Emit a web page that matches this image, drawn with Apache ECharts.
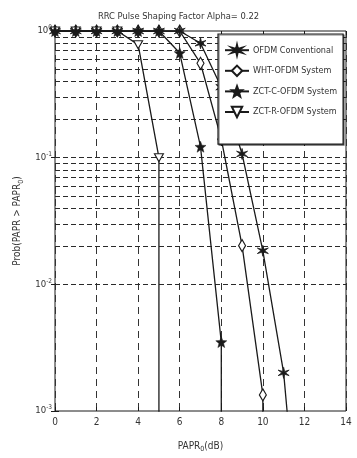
<!DOCTYPE html>
<html><head><meta charset="utf-8">
<script src="https://cdn.jsdelivr.net/npm/echarts@6/dist/echarts.min.js"></script>
<style>html,body{margin:0;padding:0;background:#fff}#c{width:357px;height:458px}</style>
</head><body><div id="c"></div>
<script>
const titleText = 'RRC Pulse Shaping Factor Alpha= 0.22';
const seriesNames = ['OFDM Conventional', 'WHT-OFDM System', 'ZCT-C-OFDM System', 'ZCT-R-OFDM System'];
const paprX = [0, 1, 2, 3, 4, 5, 6, 7, 8, 9, 10, 11, 12, 13];
const ofdmConv = [1, 1, 1, 1, 1, 1, 1, 0.80, 0.36, 0.107, 0.0184, 0.0020, 0.00003, 0];
const whtOfdm = [1, 1, 1, 1, 1, 1, 1, 0.556, 0.14, 0.0202, 0.00134, 0];
const zctCOfdm = [1, 1, 1, 1, 1, 1, 0.67, 0.122, 0.0035, 0];
const zctROfdm = [1, 1, 1, 1, 0.78, 0.1, 0];
const xTicks = [0, 2, 4, 6, 8, 10, 12, 14];
const yGrid = [0.002, 0.003, 0.004, 0.005, 0.006, 0.007, 0.008, 0.009, 0.01,
  0.02, 0.03, 0.04, 0.05, 0.06, 0.07, 0.08, 0.09, 0.1,
  0.2, 0.3, 0.4, 0.5, 0.6, 0.7, 0.8, 0.9];

const FONT = "'Liberation Sans Narrow', 'DejaVu Sans Condensed', 'Liberation Sans', Arial, sans-serif";
const INK = '#1a1a1a';

function buildData(ys) {
  const out = [];
  for (let i = 0; i < ys.length; i++) {
    if (ys[i] > 0) out.push({ value: [paprX[i], ys[i]] });
    else { out.push({ value: [paprX[i - 1], 1e-9], symbol: 'none' }); break; }
  }
  return out;
}

function starPath(n, rIn) {
  let d = '';
  for (let k = 0; k < 2 * n; k++) {
    const r = k % 2 === 0 ? 1 : rIn;
    const a = Math.PI * k / n - Math.PI / 2;
    d += (k === 0 ? 'M' : 'L') + (r * Math.cos(a)).toFixed(3) + ',' + (r * Math.sin(a)).toFixed(3);
  }
  return 'path://' + d + 'Z';
}
const asterisk = starPath(6, 0.3);
const star5 = starPath(5, 0.42);

const lineStyle = { color: INK, width: 1.3 };
const chart = echarts.init(document.getElementById('c'), null, { renderer: 'canvas' });
chart.setOption({
  animation: false,
  backgroundColor: '#fff',
  title: {
    text: titleText, left: 'center', top: 7,
    textStyle: { fontFamily: FONT, fontSize: 9.3, fontWeight: 'normal', color: '#333' }
  },
  grid: { left: 55, right: 11, top: 31, bottom: 44, show: true, borderColor: INK, borderWidth: 1 },
  legend: {
    orient: 'vertical', left: 218, top: 34, z: 20,
    padding: [10, 6, 26, 6],
    itemGap: 8.2, itemWidth: 24, itemHeight: 13,
    backgroundColor: '#fff', borderColor: INK, borderWidth: 1.2,
    shadowColor: 'rgba(0,0,0,0.5)', shadowOffsetX: 1, shadowOffsetY: 1, shadowBlur: 0,
    textStyle: { fontFamily: FONT, fontSize: 9, color: '#333', padding: [0, 0, 0, -1] },
    data: seriesNames
  },
  xAxis: [{
    type: 'value', min: 0, max: 14, interval: 2,
    name: 'PAPR{sub|0}(dB)', nameLocation: 'middle', nameGap: 29,
    nameTextStyle: { fontFamily: FONT, fontSize: 10, color: '#333',
      rich: { sub: { fontFamily: FONT, fontSize: 7, color: '#333', verticalAlign: 'bottom', padding: [6, 0, 0, 0] } } },
    axisLine: { show: false },
    axisTick: { show: true, inside: true, length: 4, lineStyle: { color: INK } },
    axisLabel: { fontFamily: FONT, fontSize: 10, color: '#333', margin: 6,
      formatter: v => xTicks.includes(v) ? String(v) : '' },
    splitLine: { show: true, lineStyle: { color: '#333', type: [7, 5], width: 1 } }
  }, {
    type: 'value', min: 0, max: 14, interval: 2, position: 'top',
    axisLine: { show: false }, axisLabel: { show: false },
    axisTick: { show: true, inside: true, length: 4, lineStyle: { color: INK } },
    splitLine: { show: false }
  }],
  yAxis: [{
    type: 'log', logBase: 10, min: 1e-3, max: 1,
    name: 'Prob(PAPR > PAPR{sub|0})', nameLocation: 'middle', nameGap: 19, nameRotate: 90,
    nameTextStyle: { fontFamily: FONT, fontSize: 10, color: '#333',
      rich: { sub: { fontFamily: FONT, fontSize: 7, color: '#333', verticalAlign: 'bottom', padding: [6, 0, 0, 0] } } },
    axisLine: { show: false },
    axisTick: { show: true, inside: true, length: 4, lineStyle: { color: INK } },
    axisLabel: {
      fontFamily: FONT, color: '#333', margin: 3,
      formatter: v => {
        const e = Math.round(Math.log10(v));
        return '{b|10}{s|' + e + '}';
      },
      rich: {
        b: { fontFamily: FONT, fontSize: 9.5, color: '#333' },
        s: { fontFamily: FONT, fontSize: 6.5, color: '#333', verticalAlign: 'top', padding: [0, 0, 7, 0] }
      }
    },
    splitLine: { show: false }
  }, {
    type: 'log', logBase: 10, min: 1e-3, max: 1, position: 'right',
    axisLine: { show: false }, axisLabel: { show: false },
    axisTick: { show: true, inside: true, length: 4, lineStyle: { color: INK } },
    splitLine: { show: false }
  }],
  series: [{
    name: seriesNames[0], type: 'line', data: buildData(ofdmConv),
    symbol: asterisk, symbolSize: 11,
    itemStyle: { color: INK, borderColor: INK, borderWidth: 0.8 },
    lineStyle: lineStyle, z: 4,
    markLine: {
      silent: true, symbol: 'none', animation: false, z: 1,
      label: { show: false },
      lineStyle: { color: '#2a2a2a', type: [5, 3], width: 1 },
      data: yGrid.map(v => ({ yAxis: v }))
    }
  }, {
    name: seriesNames[1], type: 'line', data: buildData(whtOfdm),
    symbol: 'diamond', symbolSize: [7, 12],
    itemStyle: { color: '#fff', borderColor: INK, borderWidth: 1.2 },
    lineStyle: lineStyle, z: 3
  }, {
    name: seriesNames[2], type: 'line', data: buildData(zctCOfdm),
    symbol: star5, symbolSize: 11,
    itemStyle: { color: INK, borderColor: INK, borderWidth: 0.5 },
    lineStyle: lineStyle, z: 6
  }, {
    name: seriesNames[3], type: 'line', data: buildData(zctROfdm),
    symbol: 'triangle', symbolRotate: 180, symbolSize: [9, 8],
    itemStyle: { color: '#fff', borderColor: INK, borderWidth: 1.1 },
    lineStyle: lineStyle, z: 5
  }]
});
</script>
</body></html>
